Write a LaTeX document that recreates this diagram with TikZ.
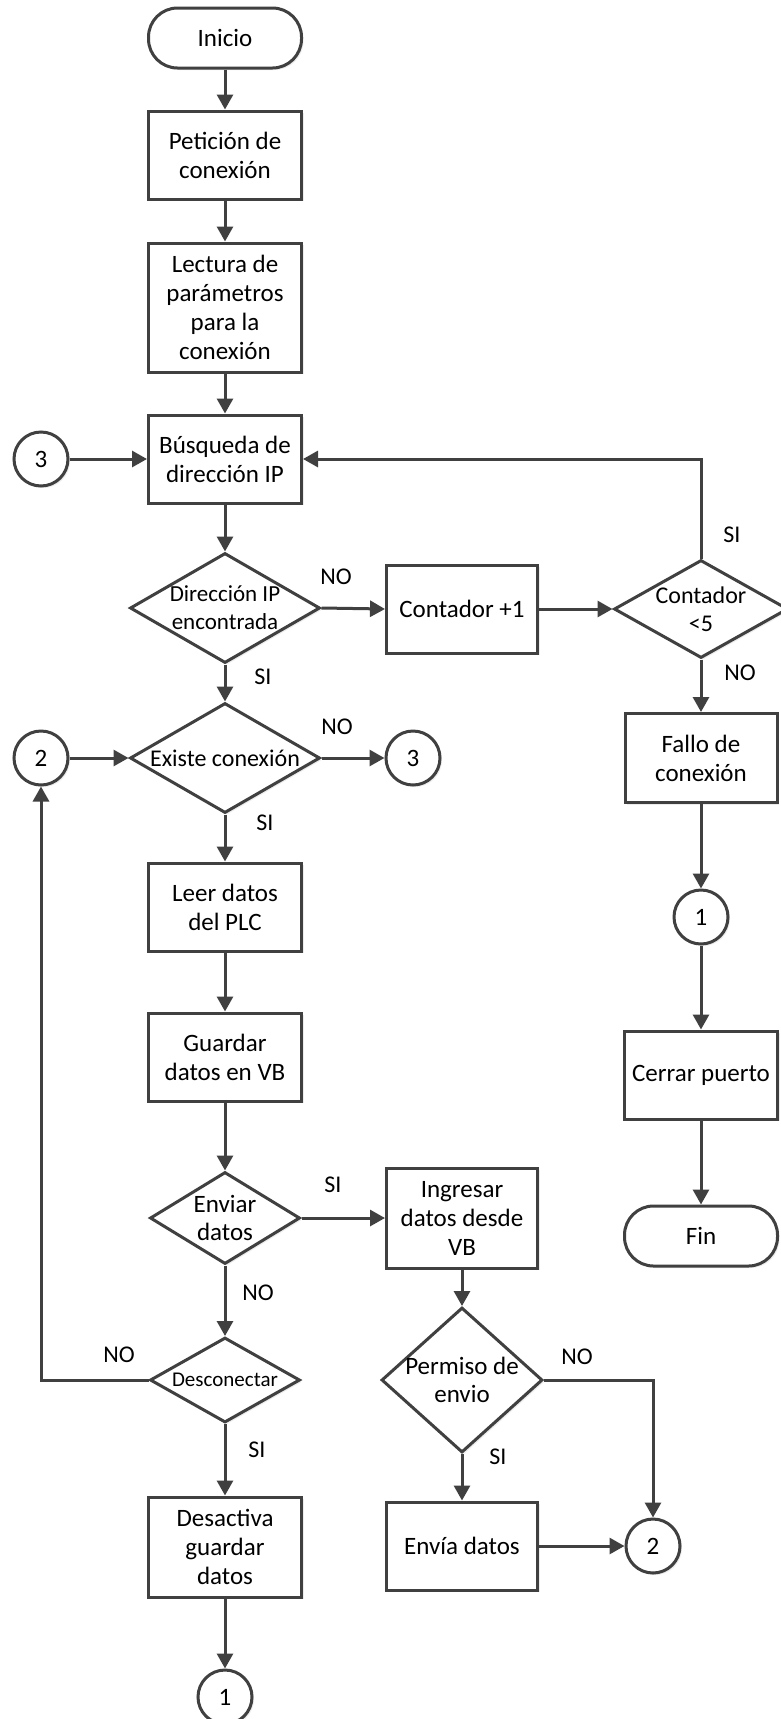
\documentclass[tikz,border=0pt]{standalone}
\usepackage{fontspec}
\setmainfont{Carlito}
\usetikzlibrary{shapes.geometric, arrows.meta, shadows}
\definecolor{ink}{HTML}{404040}
\tikzset{
  base/.style={draw=ink, line width=3pt, fill=white, align=center,
    font=\fontsize{25}{29}\selectfont, inner sep=0pt,
    drop shadow={opacity=0.15, shadow xshift=2pt, shadow yshift=-2pt}},
  proc/.style={base, rectangle, minimum width=153pt, minimum height=88pt},
  term/.style={base, rectangle, rounded corners=29pt, minimum width=153pt, minimum height=60pt},
  dec/.style={base, diamond},
  conn/.style={base, circle, minimum size=54pt},
  dtext/.style={align=center, inner sep=0pt, font=\fontsize{#1}{28}\selectfont},
  flow/.style={draw=ink, line width=3pt, -{Triangle[length=15pt,width=16pt]}},
  lbl/.style={font=\fontsize{24}{26}\selectfont, inner sep=0pt},
}
\begin{document}
\begin{tikzpicture}[x=1pt,y=-1pt]
\fill[white] (0,0) rectangle (780,1719);
\useasboundingbox (0,0) rectangle (780,1719);

% main column
\node[term] (inicio) at (225,38) {Inicio};
\node[proc] (peticion) at (225,155) {Petición de\\conexión};
\node[proc, minimum height=129pt] (lectura) at (225,307.5) {Lectura de\\parámetros\\para la\\conexión};
\node[proc] (busqueda) at (225,459) {Búsqueda de\\dirección IP};
\node[conn] (c3a) at (41,459) {3};
\node[dec, minimum width=190pt, minimum height=110pt,
  label={[dtext=23]center:Dirección IP\\encontrada}] (dir) at (225,608) {};
\node[dec, minimum width=190pt, minimum height=110pt,
  label={[dtext=24]center:Existe conexión}] (exist) at (225,758) {};
\node[conn] (c2a) at (41,758) {2};
\node[conn] (c3b) at (413,758) {3};
\node[proc] (leer) at (225,907) {Leer datos\\del PLC};
\node[proc] (guardar) at (225,1057) {Guardar\\datos en VB};
\node[dec, minimum width=150pt, minimum height=92pt,
  label={[dtext=25]center:Enviar\\datos}] (enviar) at (225,1218) {};
\node[dec, minimum width=150pt, minimum height=85pt,
  label={[dtext=21]center:Desconectar}] (descon) at (225,1380) {};
\node[proc, minimum height=100pt] (desact) at (225,1547) {Desactiva\\guardar\\datos};
\node[conn] (c1a) at (225,1697) {1};

% middle column
\node[proc, minimum width=151pt] (cont1) at (462,609) {Contador +1};
\node[proc, minimum width=151pt, minimum height=100pt] (ingresar) at (462,1218) {Ingresar\\datos desde\\VB};
\node[dec, minimum width=161pt, minimum height=145pt,
  label={[dtext=25]center:Permiso de\\envio}] (permiso) at (462,1380) {};
\node[proc, minimum width=151pt] (envia) at (462,1546) {Envía datos};
\node[conn] (c2b) at (653,1546) {2};

% right column
\node[dec, minimum width=174pt, minimum height=98pt,
  label={[dtext=24]center:Contador\\<5}] (cont5) at (701,609) {};
\node[proc, minimum width=152pt, minimum height=89pt] (fallo) at (701,758) {Fallo de\\conexión};
\node[conn] (c1b) at (701,917) {1};
\node[proc] (cerrar) at (701,1075) {Cerrar puerto};
\node[term] (fin) at (701,1236) {Fin};

% connectors
\draw[flow] (inicio) -- (peticion);
\draw[flow] (peticion) -- (lectura);
\draw[flow] (lectura) -- (busqueda);
\draw[flow] (c3a) -- (busqueda);
\draw[flow] (busqueda) -- (dir);
\draw[flow] (dir.east) -- (cont1.west);
\draw[flow] (dir.south) -- (exist.north);
\draw[flow] (cont1.east) -- (cont5.west);
\draw[flow] (cont5.north) -- (cont5.north |- busqueda.east) -- (busqueda.east);
\draw[flow] (cont5.south) -- (fallo.north);
\draw[flow] (fallo) -- (c1b);
\draw[flow] (c1b) -- (cerrar);
\draw[flow] (cerrar) -- (fin);
\draw[flow] (c2a) -- (exist.west);
\draw[flow] (exist.east) -- (c3b);
\draw[flow] (exist.south) -- (leer.north);
\draw[flow] (leer) -- (guardar);
\draw[flow] (guardar) -- (enviar.north);
\draw[flow] (enviar.east) -- (ingresar.west);
\draw[flow] (enviar.south) -- (descon.north);
\draw[flow] (descon.west) -| (c2a.south);
\draw[flow] (descon.south) -- (desact.north);
\draw[flow] (desact) -- (c1a);
\draw[flow] (ingresar) -- (permiso.north);
\draw[flow] (permiso.east) -| (c2b.north);
\draw[flow] (permiso.south) -- (envia.north);
\draw[flow] (envia) -- (c2b);

% branch labels
\node[lbl] (l1) at (336,577) {NO};
\node[lbl] (l2) at (263,677) {SI};
\node[lbl] (l3) at (337,727) {NO};
\node[lbl] (l4) at (265,823) {SI};
\node[lbl] (l5) at (732,535) {SI};
\node[lbl] (l6) at (740,673) {NO};
\node[lbl] (l7) at (333,1185) {SI};
\node[lbl] (l8) at (258,1293) {NO};
\node[lbl] (l9) at (119,1355) {NO};
\node[lbl] (l10) at (257,1450) {SI};
\node[lbl] (l11) at (577,1357) {NO};
\node[lbl] (l12) at (498,1457) {SI};
\end{tikzpicture}
\end{document}
